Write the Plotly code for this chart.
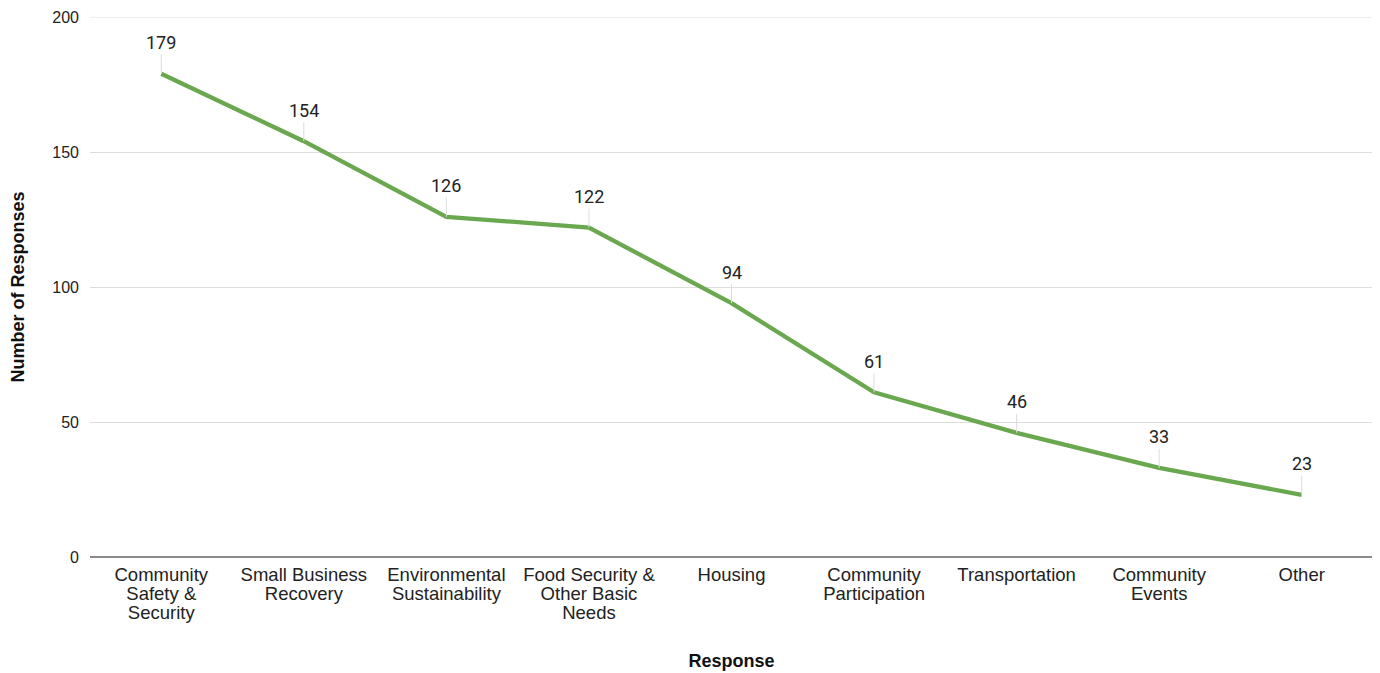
import plotly.graph_objects as go

categories = [
    "Community<br>Safety &<br>Security",
    "Small Business<br>Recovery",
    "Environmental<br>Sustainability",
    "Food Security &<br>Other Basic<br>Needs",
    "Housing",
    "Community<br>Participation",
    "Transportation",
    "Community<br>Events",
    "Other",
]
responses = [179, 154, 126, 122, 94, 61, 46, 33, 23]
y_ticks = [0, 50, 100, 150, 200]


def big(label, px=18.5):
    return "<br>".join(
        f'<span style="font-size:{px}px">{part}</span>' for part in label.split("<br>")
    )


tick_text = [big(c) for c in categories]

fig = go.Figure()
fig.add_trace(go.Scatter(
    x=categories, y=responses, mode="lines",
    line=dict(color="#6aa84f", width=4.3),
    hoverinfo="y",
))

for c, v in zip(categories, responses):
    fig.add_annotation(
        x=c, y=v, text=str(v), showarrow=True, arrowhead=0,
        arrowwidth=1, arrowcolor="#dcdcdc", ax=0, ay=-31, standoff=0,
        font=dict(family="Roboto", size=18, color="#222222"),
    )

# top gridline (plotly omits the grid line at the range edge)
fig.add_shape(type="line", xref="paper", yref="y", x0=0, x1=1, y0=y_ticks[-1], y1=y_ticks[-1],
              line=dict(color="#dddddd", width=1), layer="below")

fig.update_layout(
    width=1380, height=673,
    margin=dict(l=82, r=15, t=9, b=124),
    paper_bgcolor="white", plot_bgcolor="white",
    showlegend=False,
    font=dict(family="Liberation Sans, Arial", size=16, color="#222222"),
    xaxis=dict(
        title=dict(text="<b>Response</b>", font=dict(size=18, color="#111111"), standoff=32),
        showgrid=False, showline=False, zeroline=False,
        tickmode="array", tickvals=categories, ticktext=tick_text,
        tickfont=dict(size=14.6, color="#222222"),
        ticks="", ticklabelstandoff=8, automargin=False,
        range=[-0.5, len(categories) - 0.5],
    ),
    yaxis=dict(
        title=dict(text="<b>Number of Responses</b>", font=dict(size=18, color="#111111"), standoff=30),
        range=[0, 200], tickvals=y_ticks,
        showgrid=True, gridcolor="#dddddd", gridwidth=1,
        zeroline=True, zerolinecolor="#8a8a8a", zerolinewidth=1.5,
        tickfont=dict(size=16, color="#222222"),
        ticks="", ticklabelstandoff=10, automargin=False,
    ),
)

fig.write_html("out.html")
